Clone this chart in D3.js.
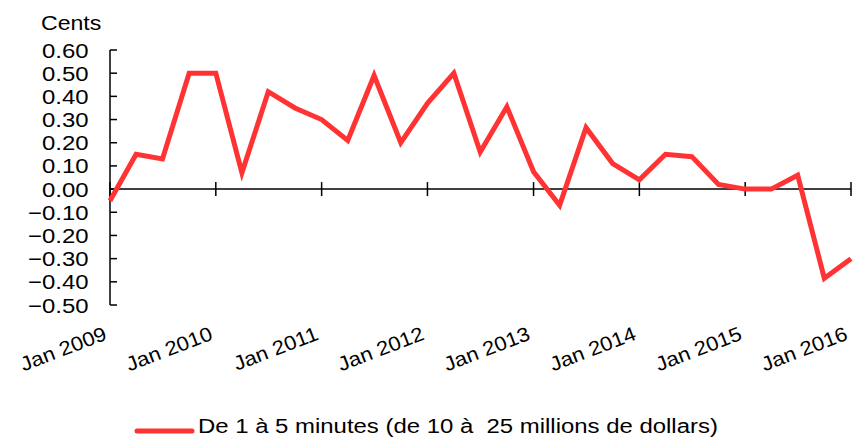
<!DOCTYPE html>
<html>
<head>
<meta charset="utf-8">
<script src="https://cdn.jsdelivr.net/npm/d3@7"></script>
<style>
  html, body { margin: 0; padding: 0; background: #fff; }
  svg { display: block; }
  text { font-family: "Liberation Sans", Arial, Helvetica, sans-serif; fill: #000; white-space: pre; }
</style>
</head>
<body>
<svg id="chart" width="856" height="437"></svg>
<script>
// Quarterly observations, Jan 2009 – Jan 2016
const quarters = [
  "2009-01", "2009-04", "2009-07", "2009-10",
  "2010-01", "2010-04", "2010-07", "2010-10",
  "2011-01", "2011-04", "2011-07", "2011-10",
  "2012-01", "2012-04", "2012-07", "2012-10",
  "2013-01", "2013-04", "2013-07", "2013-10",
  "2014-01", "2014-04", "2014-07", "2014-10",
  "2015-01", "2015-04", "2015-07", "2015-10",
  "2016-01"
];
const values = [
  -0.05, 0.15, 0.13, 0.50,
  0.50, 0.07, 0.42, 0.35,
  0.30, 0.21, 0.49, 0.20,
  0.37, 0.50, 0.16, 0.355,
  0.075, -0.07, 0.265, 0.11,
  0.04, 0.15, 0.14, 0.02,
  0.00, 0.00, 0.06, -0.385,
  -0.30
];
const yTicks = [0.6, 0.5, 0.4, 0.3, 0.2, 0.1, 0.0, -0.1, -0.2, -0.3, -0.4, -0.5];
const xTickYears = [2009, 2010, 2011, 2012, 2013, 2014, 2015, 2016];
const yUnit = "Cents";
const seriesName = "De 1 à 5 minutes (de 10 à  25 millions de dollars)";

const parse = d3.timeParse("%Y-%m");
const data = quarters.map((q, i) => ({ date: parse(q), value: values[i] }));

const svg = d3.select("#chart");
const red = "#ff3333";
const stretch = 1.14;

const x = d3.scaleTime()
  .domain([new Date(2009, 0, 1), new Date(2016, 0, 1)])
  .range([110, 851]);
const y = d3.scaleLinear()
  .domain([-0.5, 0.6])
  .range([305, 50]);

// Y axis: ticks pointing into the plot
const yAxis = svg.append("g").attr("transform", `translate(${x.range()[0]},0)`);
yAxis.append("line")
  .attr("y1", y(0.6)).attr("y2", y(-0.5))
  .attr("stroke", "#000").attr("stroke-width", 1.5);
yAxis.selectAll("line.tick").data(yTicks).join("line")
  .attr("class", "tick")
  .attr("x1", 0).attr("x2", 7)
  .attr("y1", d => y(d)).attr("y2", d => y(d))
  .attr("stroke", "#000").attr("stroke-width", 1.5);
yAxis.selectAll("text").data(yTicks).join("text")
  .attr("transform", d => `translate(-21.5,${y(d) + 7.5}) scale(${stretch},1)`)
  .attr("text-anchor", "end")
  .attr("font-size", 21)
  .text(d => d3.format(".2f")(d));

svg.append("text")
  .attr("transform", `translate(41,30) scale(1.1,1)`)
  .attr("font-size", 21)
  .text(yUnit);

// X axis along zero, ticks crossing the line
const y0 = y(0);
const xAxis = svg.append("g");
xAxis.append("line")
  .attr("x1", x.range()[0]).attr("x2", x.range()[1])
  .attr("y1", y0).attr("y2", y0)
  .attr("stroke", "#000").attr("stroke-width", 1.5);
xAxis.selectAll("line.tick").data(xTickYears).join("line")
  .attr("class", "tick")
  .attr("x1", d => x(new Date(d, 0, 1))).attr("x2", d => x(new Date(d, 0, 1)))
  .attr("y1", y0 - 7).attr("y2", y0 + 7)
  .attr("stroke", "#000").attr("stroke-width", 1.5);
xAxis.selectAll("text").data(xTickYears).join("text")
  .attr("transform", d => `translate(${x(new Date(d, 0, 1)) - 2},339) rotate(-21) scale(1.1,1)`)
  .attr("text-anchor", "end")
  .attr("font-size", 20)
  .text(d => `Jan ${d}`);

// Series line
const line = d3.line()
  .x(d => x(d.date))
  .y(d => y(d.value));
svg.append("path")
  .datum(data)
  .attr("d", line)
  .attr("fill", "none")
  .attr("stroke", red)
  .attr("stroke-width", 5)
  .attr("stroke-linejoin", "miter");

// Legend
const legend = svg.append("g").attr("transform", "translate(137,431)");
legend.append("line")
  .attr("x1", 0).attr("x2", 55)
  .attr("stroke", red).attr("stroke-width", 5)
  .attr("stroke-linecap", "round");
legend.append("text")
  .attr("transform", `translate(61,2) scale(${stretch},1)`)
  .attr("font-size", 21)
  .text(seriesName);
</script>
</body>
</html>
